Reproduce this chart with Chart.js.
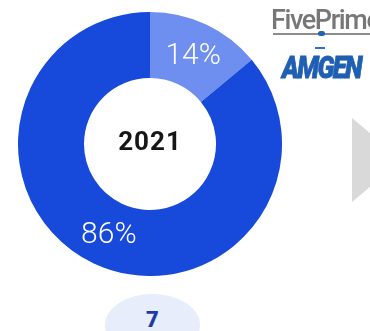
<!DOCTYPE html>
<html>
<head>
<meta charset="utf-8">
<script src="https://cdn.jsdelivr.net/npm/chart.js@4"></script>
<style>
  html, body { margin: 0; padding: 0; background: #fff; }
  body { width: 370px; height: 331px; position: relative; overflow: hidden; font-family: Roboto, "Open Sans", sans-serif; }
  #wrap { position: absolute; left: 18px; top: 12px; width: 264px; height: 264px; }
  .logo-five { position: absolute; left: 271px; top: 4px; font: 500 27px Roboto, sans-serif; color: #777; letter-spacing: -1.4px; white-space: nowrap; }
  .logo-rule { position: absolute; left: 273px; top: 33px; width: 100px; height: 2px; background: #8c8c8c; }
  .logo-dot { position: absolute; left: 318px; top: 31px; width: 7px; height: 5px; border-radius: 3px; background: #1f64b8; }
  .logo-dash { position: absolute; left: 315px; top: 47px; width: 10px; height: 2px; background: #2f6fd0; }
  .logo-amgen { position: absolute; left: 282px; top: 48px; font: italic 900 32px Roboto, sans-serif; color: #1f5fb3; letter-spacing: -2px; transform: scaleX(0.8); transform-origin: left; -webkit-text-stroke: 0.8px #1f5fb3; }
  .arrow { position: absolute; left: 352px; top: 118px; width: 50px; height: 84px; background: #d9d9d9; clip-path: polygon(0 0, 100% 50%, 0 100%); }
  .pill { position: absolute; left: 105px; top: 294px; width: 95px; height: 62px; border-radius: 50%; background: #e7edfb; }
  .pill span { position: absolute; left: 0; right: 0; top: 13px; text-align: center; font: 900 22px Roboto, sans-serif; color: #1b3da6; }
</style>
</head>
<body>
<div id="wrap"><canvas id="chart"></canvas></div>

<div class="logo-five">FivePrime</div>
<div class="logo-rule"></div>
<div class="logo-dot"></div>
<div class="logo-dash"></div>
<div class="logo-amgen">AMGEN</div>
<div class="arrow"></div>
<div class="pill"><span id="count">7</span></div>

<script>
// Share split for the year
const YEAR_LABEL = '2021';
const SEGMENTS = ['Partnered', 'Other'];
const SHARES = [14, 86];
const SEG_COLORS = ['#6e8ff0', '#1749da'];
const COUNT = 7;

document.getElementById('count').textContent = COUNT;

// Writes the percentage inside each slice and the year in the hole
const sliceLabels = {
  id: 'sliceLabels',
  afterDatasetsDraw(chart) {
    const ctx = chart.ctx;
    const meta = chart.getDatasetMeta(0);
    ctx.save();
    ctx.textAlign = 'center';
    ctx.textBaseline = 'middle';
    ctx.fillStyle = '#ffffff';
    ctx.font = '300 30px Roboto, sans-serif';
    meta.data.forEach((arc, i) => {
      const p = arc.tooltipPosition();
      ctx.fillText(SHARES[i] + '%', p.x + 1, p.y + 2);
    });
    const c = meta.data[0];
    ctx.fillStyle = '#161616';
    ctx.font = '700 26px Roboto, sans-serif';
    ctx.letterSpacing = '1px';
    ctx.fillText(YEAR_LABEL, c.x, c.y - 1);
    ctx.restore();
  },
};

new Chart(document.getElementById('chart'), {
  type: 'doughnut',
  data: {
    labels: SEGMENTS,
    datasets: [{
      data: SHARES,
      backgroundColor: SEG_COLORS,
      borderWidth: 0,
    }],
  },
  options: {
    responsive: true,
    maintainAspectRatio: false,
    animation: false,
    cutout: '50%',
    layout: { padding: 0 },
    plugins: {
      legend: { display: false },
      tooltip: { enabled: false },
    },
  },
  plugins: [sliceLabels],
});
</script>
</body>
</html>
